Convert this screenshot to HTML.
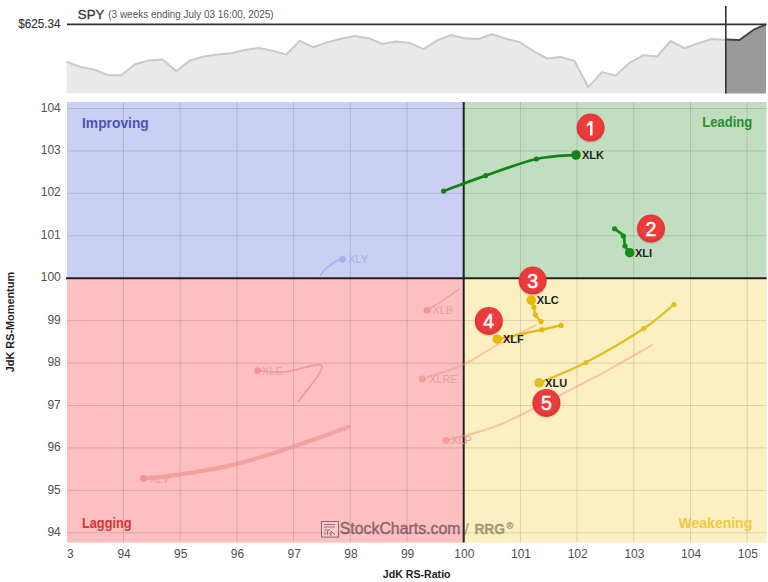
<!DOCTYPE html>
<html><head><meta charset="utf-8"><title>RRG</title>
<style>html,body{margin:0;padding:0;background:#fff;width:768px;height:582px;overflow:hidden}svg{display:block}svg,text{font-family:"Liberation Sans",sans-serif}</style>
</head><body>
<svg width="768" height="582" viewBox="0 0 768 582" font-family="'Liberation Sans', sans-serif">
<rect width="768" height="582" fill="#ffffff"/>
<path d="M66.5,93.5 L66.5,61.7 L80.2,66.9 L94.0,69.5 L107.7,75.2 L121.4,75.2 L135.1,64.3 L148.9,60.4 L162.6,59.6 L176.3,71.3 L190.1,60.4 L203.8,56.5 L217.5,54.4 L231.2,53.3 L245.0,50.0 L258.7,47.9 L272.4,50.7 L286.2,54.6 L299.9,40.8 L313.6,47.3 L327.4,42.1 L341.1,38.8 L354.8,36.1 L368.5,38.2 L382.3,44.0 L396.0,41.6 L409.7,42.9 L423.5,49.2 L437.2,40.3 L450.9,35.1 L464.6,38.2 L478.4,39.0 L492.1,34.3 L505.8,38.8 L519.6,42.1 L533.3,51.2 L547.0,58.5 L560.8,57.0 L574.5,60.9 L588.2,87.2 L601.9,72.1 L615.7,75.5 L629.4,63.0 L643.1,55.3 L656.9,56.6 L670.6,41.0 L684.3,48.2 L698.0,43.4 L711.8,39.0 L725.5,40.0 L725.5,93.5 Z" fill="#e9e9e9"/>
<polyline points="66.5,61.7 80.2,66.9 94.0,69.5 107.7,75.2 121.4,75.2 135.1,64.3 148.9,60.4 162.6,59.6 176.3,71.3 190.1,60.4 203.8,56.5 217.5,54.4 231.2,53.3 245.0,50.0 258.7,47.9 272.4,50.7 286.2,54.6 299.9,40.8 313.6,47.3 327.4,42.1 341.1,38.8 354.8,36.1 368.5,38.2 382.3,44.0 396.0,41.6 409.7,42.9 423.5,49.2 437.2,40.3 450.9,35.1 464.6,38.2 478.4,39.0 492.1,34.3 505.8,38.8 519.6,42.1 533.3,51.2 547.0,58.5 560.8,57.0 574.5,60.9 588.2,87.2 601.9,72.1 615.7,75.5 629.4,63.0 643.1,55.3 656.9,56.6 670.6,41.0 684.3,48.2 698.0,43.4 711.8,39.0 725.5,40.0" fill="none" stroke="#c9c9c9" stroke-width="2" stroke-linejoin="round"/>
<path d="M725.8,93.5 L725.8,39.6 L739.5,40 L753.7,29.7 L766,24.4 L766,93.5 Z" fill="#9a9a9a"/>
<polyline points="725.8,39.6 739.5,40 753.7,29.7 766,24.4" fill="none" stroke="#444" stroke-width="2" stroke-linejoin="round"/>
<line x1="67" y1="24.4" x2="766.5" y2="24.4" stroke="#333" stroke-width="1.6"/>
<line x1="725.8" y1="6" x2="725.8" y2="93.5" stroke="#333" stroke-width="1.6"/>
<text x="60.5" y="27.7" font-size="13" fill="#333" stroke="#333" stroke-width="0.15" text-anchor="end" textLength="42.3" lengthAdjust="spacingAndGlyphs">$625.34</text>
<text x="77.8" y="19" font-size="13.2" fill="#333" stroke="#333" stroke-width="0.3" textLength="26.5" lengthAdjust="spacingAndGlyphs">SPY</text>
<text x="108.3" y="18" font-size="10" fill="#555" textLength="165.4" lengthAdjust="spacingAndGlyphs">(3 weeks ending July 03 16:00, 2025)</text>
<rect x="67" y="102" width="396.7" height="176.2" fill="#cbcff4"/>
<rect x="463.7" y="102" width="302.90000000000003" height="176.2" fill="#c1dfc0"/>
<rect x="67" y="278.2" width="396.7" height="264.40000000000003" fill="#fdbfbf"/>
<rect x="463.7" y="278.2" width="302.90000000000003" height="264.40000000000003" fill="#fcefc1"/>
<path d="M123.5,102V542.6 M180.2,102V542.6 M236.9,102V542.6 M293.6,102V542.6 M350.3,102V542.6 M407.0,102V542.6 M520.4,102V542.6 M577.1,102V542.6 M633.8,102V542.6 M690.5,102V542.6 M747.2,102V542.6 M67,532.8H766.6 M67,490.4H766.6 M67,447.9H766.6 M67,405.5H766.6 M67,363.1H766.6 M67,320.6H766.6 M67,235.8H766.6 M67,193.3H766.6 M67,150.9H766.6 M67,108.5H766.6" stroke="#000" stroke-opacity="0.13" stroke-width="1" fill="none"/>
<line x1="66" y1="278.2" x2="766.6" y2="278.2" stroke="#222" stroke-width="2"/>
<line x1="463.7" y1="102" x2="463.7" y2="542.6" stroke="#222" stroke-width="2"/>
<text x="60.8" y="535.9" font-size="12" fill="#505050" text-anchor="end">94</text>
<text x="60.8" y="493.5" font-size="12" fill="#505050" text-anchor="end">95</text>
<text x="60.8" y="451.0" font-size="12" fill="#505050" text-anchor="end">96</text>
<text x="60.8" y="408.6" font-size="12" fill="#505050" text-anchor="end">97</text>
<text x="60.8" y="366.2" font-size="12" fill="#505050" text-anchor="end">98</text>
<text x="60.8" y="323.7" font-size="12" fill="#505050" text-anchor="end">99</text>
<text x="60.8" y="281.3" font-size="12" fill="#505050" text-anchor="end">100</text>
<text x="60.8" y="238.9" font-size="12" fill="#505050" text-anchor="end">101</text>
<text x="60.8" y="196.4" font-size="12" fill="#505050" text-anchor="end">102</text>
<text x="60.8" y="154.0" font-size="12" fill="#505050" text-anchor="end">103</text>
<text x="60.8" y="111.6" font-size="12" fill="#505050" text-anchor="end">104</text>
<text x="124.1" y="557.7" font-size="12" fill="#505050" text-anchor="middle">94</text>
<text x="180.8" y="557.7" font-size="12" fill="#505050" text-anchor="middle">95</text>
<text x="237.5" y="557.7" font-size="12" fill="#505050" text-anchor="middle">96</text>
<text x="294.2" y="557.7" font-size="12" fill="#505050" text-anchor="middle">97</text>
<text x="350.9" y="557.7" font-size="12" fill="#505050" text-anchor="middle">98</text>
<text x="407.6" y="557.7" font-size="12" fill="#505050" text-anchor="middle">99</text>
<text x="464.3" y="557.7" font-size="12" fill="#505050" text-anchor="middle">100</text>
<text x="521.0" y="557.7" font-size="12" fill="#505050" text-anchor="middle">101</text>
<text x="577.7" y="557.7" font-size="12" fill="#505050" text-anchor="middle">102</text>
<text x="634.4" y="557.7" font-size="12" fill="#505050" text-anchor="middle">103</text>
<text x="691.1" y="557.7" font-size="12" fill="#505050" text-anchor="middle">104</text>
<text x="747.8" y="557.7" font-size="12" fill="#505050" text-anchor="middle">105</text>
<text x="70.3" y="557.7" font-size="12" fill="#505050" text-anchor="middle">3</text>
<text x="416.7" y="578.4" font-size="11" font-weight="bold" fill="#222" text-anchor="middle" textLength="67.7" lengthAdjust="spacingAndGlyphs">JdK RS-Ratio</text>
<text transform="translate(14.2,322.1) rotate(-90)" x="0" y="0" font-size="11" font-weight="bold" fill="#222" text-anchor="middle" textLength="100.3" lengthAdjust="spacingAndGlyphs">JdK RS-Momentum</text>
<text x="82" y="127.6" font-size="14" font-weight="bold" fill="#4a55b0" textLength="66.8" lengthAdjust="spacingAndGlyphs">Improving</text>
<text x="752.3" y="127.2" font-size="14" font-weight="bold" fill="#2b8c2e" text-anchor="end" textLength="50" lengthAdjust="spacingAndGlyphs">Leading</text>
<text x="82" y="528.2" font-size="14" font-weight="bold" fill="#d83438" textLength="49.5" lengthAdjust="spacingAndGlyphs">Lagging</text>
<text x="752.2" y="528.2" font-size="14" font-weight="bold" fill="#eecb40" text-anchor="end" textLength="73.6" lengthAdjust="spacingAndGlyphs">Weakening</text>
<g opacity="0.58" fill="#3a1e3c" stroke="#3a1e3c" stroke-width="0.4">
<rect x="321.5" y="521.5" width="17" height="15.6" fill="#fff" fill-opacity="0.35" stroke="#3a2838" stroke-width="1"/>
<path d="M324,524.5h11 M324,527h11 M324,530h6 M325,535v-3 M327.5,535v-4 M330,535v-2.5 M331,531l4,4 M331,531v5" fill="none" stroke="#3a2838" stroke-width="0.9"/>
<text x="339.8" y="533.6" font-size="16" textLength="120.6" lengthAdjust="spacingAndGlyphs">StockCharts.com</text>
</g>
<g opacity="0.5" fill="#4a4838" stroke="#4a4838" stroke-width="0.3">
<text x="464.3" y="535" font-size="16" stroke-width="0.2">/</text>
<text x="474.4" y="534.4" font-size="14" font-weight="bold" textLength="30.7" lengthAdjust="spacingAndGlyphs">RRG</text>
<text x="506.5" y="529" font-size="9" font-weight="bold">®</text>
</g>
<g opacity="0.5">
<path d="M320.50,275.20 C321.28,274.22 322.57,271.65 325.20,269.30 C327.83,266.95 333.37,262.77 336.30,261.10 C339.23,259.43 341.72,259.60 342.80,259.30" fill="none" stroke="#8c94ec" stroke-width="1.8" stroke-linejoin="round" stroke-linecap="round"/>
<circle cx="342.8" cy="259.3" r="3.4" fill="#8c94ec"/>
</g>
<text x="348" y="263.3" font-size="11" fill="#a8aedc">XLY</text>
<g opacity="0.55">
<path d="M459.20,289.00 C456.83,290.67 450.37,295.45 445.00,299.00 C439.63,302.55 430.00,308.42 427.00,310.30" fill="none" stroke="#ec8080" stroke-width="1.4" stroke-linejoin="round" stroke-linecap="round"/>
<circle cx="427" cy="310.3" r="3.4" fill="#f07070"/>
</g>
<text x="432.4" y="314.3" font-size="11" fill="#e2a0a4">XLB</text>
<g opacity="0.55">
<path d="M298.60,401.20 C302.50,395.33 324.17,370.88 322.00,366.00 C319.83,361.12 296.33,371.13 285.60,371.90 C274.87,372.67 262.27,370.82 257.60,370.60" fill="none" stroke="#e88080" stroke-width="1.8" stroke-linejoin="round" stroke-linecap="round"/>
<circle cx="257.6" cy="370.6" r="3.4" fill="#f07070"/>
</g>
<text x="262" y="374.6" font-size="11" fill="#e2a0a4">XLE</text>
<g opacity="0.45">
<path d="M536.00,325.00 C529.50,328.33 508.87,338.52 497.00,345.00 C485.13,351.48 477.25,358.23 464.80,363.90 C452.35,369.57 429.38,376.48 422.30,379.00" fill="none" stroke="#f09080" stroke-width="1.8" stroke-linejoin="round" stroke-linecap="round"/>
<circle cx="422.3" cy="379" r="3.4" fill="#f07070"/>
</g>
<text x="429" y="383" font-size="11" fill="#e2a0a4">XLRE</text>
<g opacity="0.55">
<path d="M348.60,427.00 C339.12,430.38 310.67,441.07 291.70,447.30 C272.73,453.53 253.77,459.80 234.80,464.40 C215.83,469.00 193.12,472.55 177.90,474.90 C162.68,477.25 149.23,477.90 143.50,478.50" fill="none" stroke="#ec8888" stroke-width="4.2" stroke-linejoin="round" stroke-linecap="round"/>
<circle cx="143.5" cy="478.5" r="3.4" fill="#f07070"/>
</g>
<text x="149.5" y="482.5" font-size="11" fill="#e2a0a4">XLV</text>
<g opacity="0.45">
<path d="M651.90,345.00 C642.00,350.57 617.50,365.27 592.50,378.40 C567.50,391.52 526.32,413.43 501.90,423.75 C477.48,434.07 455.32,437.54 446.00,440.30" fill="none" stroke="#f09080" stroke-width="2" stroke-linejoin="round" stroke-linecap="round"/>
<circle cx="446" cy="440.3" r="3.4" fill="#f07070"/>
</g>
<text x="451" y="444.3" font-size="11" fill="#e2a0a4">XLP</text>
<path d="M443.60,191.10 C450.62,188.52 470.23,180.95 485.70,175.60 C501.17,170.25 521.35,162.43 536.40,159.00 C551.45,155.57 569.40,155.67 576.00,155.00" fill="none" stroke="#16801a" stroke-width="2.7" stroke-linejoin="round" stroke-linecap="round"/>
<circle cx="443.6" cy="191.1" r="2.6" fill="#16801a"/>
<circle cx="485.7" cy="175.6" r="2.6" fill="#16801a"/>
<circle cx="536.4" cy="159" r="2.6" fill="#16801a"/>
<circle cx="576" cy="155" r="4.8" fill="#16801a"/>
<text x="582" y="159.2" font-size="11" font-weight="bold" fill="#1e1e1e">XLK</text>
<path d="M614.60,228.75 C616.07,229.96 621.67,233.12 623.40,236.00 C625.13,238.88 623.95,243.22 625.00,246.00 C626.05,248.78 628.92,251.58 629.70,252.70" fill="none" stroke="#128e12" stroke-width="2.7" stroke-linejoin="round" stroke-linecap="round"/>
<circle cx="614.6" cy="228.75" r="2.6" fill="#128e12"/>
<circle cx="623.4" cy="236" r="2.6" fill="#128e12"/>
<circle cx="625" cy="246" r="2.6" fill="#128e12"/>
<circle cx="629.7" cy="252.7" r="4.8" fill="#128e12"/>
<text x="634.9" y="256.6" font-size="11" font-weight="bold" fill="#1e1e1e">XLI</text>
<path d="M541.10,321.60 C540.15,320.47 536.60,317.20 535.40,314.80 C534.20,312.40 534.60,309.63 533.90,307.20 C533.20,304.77 531.65,301.37 531.20,300.20" fill="none" stroke="#e8b808" stroke-width="2.2" stroke-linejoin="round" stroke-linecap="round"/>
<circle cx="541.1" cy="321.6" r="2.6" fill="#e8b808"/>
<circle cx="535.4" cy="314.8" r="2.6" fill="#e8b808"/>
<circle cx="533.9" cy="307.2" r="2.6" fill="#e8b808"/>
<circle cx="531.2" cy="300.2" r="4.8" fill="#e8b808"/>
<text x="536.8" y="304.3" font-size="11" font-weight="bold" fill="#1e1e1e">XLC</text>
<path d="M561.00,325.40 C557.83,326.10 552.62,327.30 542.00,329.60 C531.38,331.90 504.75,337.60 497.30,339.20" fill="none" stroke="#e8b808" stroke-width="2.2" stroke-linejoin="round" stroke-linecap="round"/>
<circle cx="561" cy="325.4" r="2.6" fill="#e8b808"/>
<circle cx="542" cy="329.6" r="2.6" fill="#e8b808"/>
<circle cx="497.3" cy="339.2" r="4.8" fill="#e8b808"/>
<text x="503" y="343.3" font-size="11" font-weight="bold" fill="#1e1e1e">XLF</text>
<path d="M674.00,304.50 C668.95,308.50 658.38,318.83 643.70,328.50 C629.02,338.17 603.32,353.45 585.90,362.50 C568.48,371.55 546.98,379.42 539.20,382.80" fill="none" stroke="#dcc21e" stroke-width="2.2" stroke-linejoin="round" stroke-linecap="round"/>
<circle cx="674" cy="304.5" r="2.6" fill="#dcc21e"/>
<circle cx="643.7" cy="328.5" r="2.6" fill="#dcc21e"/>
<circle cx="585.9" cy="362.5" r="2.6" fill="#dcc21e"/>
<circle cx="539.2" cy="382.8" r="4.8" fill="#dcc21e"/>
<text x="545.1" y="387.2" font-size="11" font-weight="bold" fill="#1e1e1e">XLU</text>
<defs><radialGradient id="bg" cx="50%" cy="45%" r="55%"><stop offset="0" stop-color="#f03e3c"/><stop offset="0.75" stop-color="#ea3a3a"/><stop offset="1" stop-color="#d23434"/></radialGradient></defs>
<circle cx="590.6" cy="128.9" r="14.3" fill="#7a2020" opacity="0.15"/>
<circle cx="590.6" cy="127.6" r="14" fill="url(#bg)"/>
<path d="M590.0,121.0 h2.5 v14.4 h-2.5 v-11.0 l-2.9,2.0 l-0.6,-1.5 z" fill="#fff"/>
<circle cx="651" cy="229.9" r="14.3" fill="#7a2020" opacity="0.15"/>
<circle cx="651" cy="228.6" r="14" fill="url(#bg)"/>
<text x="651" y="235.5" font-size="19.5" fill="#fff" stroke="#fff" stroke-width="0.5" text-anchor="middle">2</text>
<circle cx="532.7" cy="281.90000000000003" r="14.3" fill="#7a2020" opacity="0.15"/>
<circle cx="532.7" cy="280.6" r="14" fill="url(#bg)"/>
<text x="532.7" y="287.5" font-size="19.5" fill="#fff" stroke="#fff" stroke-width="0.5" text-anchor="middle">3</text>
<circle cx="488.8" cy="322.2" r="14.3" fill="#7a2020" opacity="0.15"/>
<circle cx="488.8" cy="320.9" r="14" fill="url(#bg)"/>
<text x="488.8" y="327.79999999999995" font-size="19.5" fill="#fff" stroke="#fff" stroke-width="0.5" text-anchor="middle">4</text>
<circle cx="546.4" cy="404.2" r="14.3" fill="#7a2020" opacity="0.15"/>
<circle cx="546.4" cy="402.9" r="14" fill="url(#bg)"/>
<text x="546.4" y="409.79999999999995" font-size="19.5" fill="#fff" stroke="#fff" stroke-width="0.5" text-anchor="middle">5</text>
</svg>
</body></html>
